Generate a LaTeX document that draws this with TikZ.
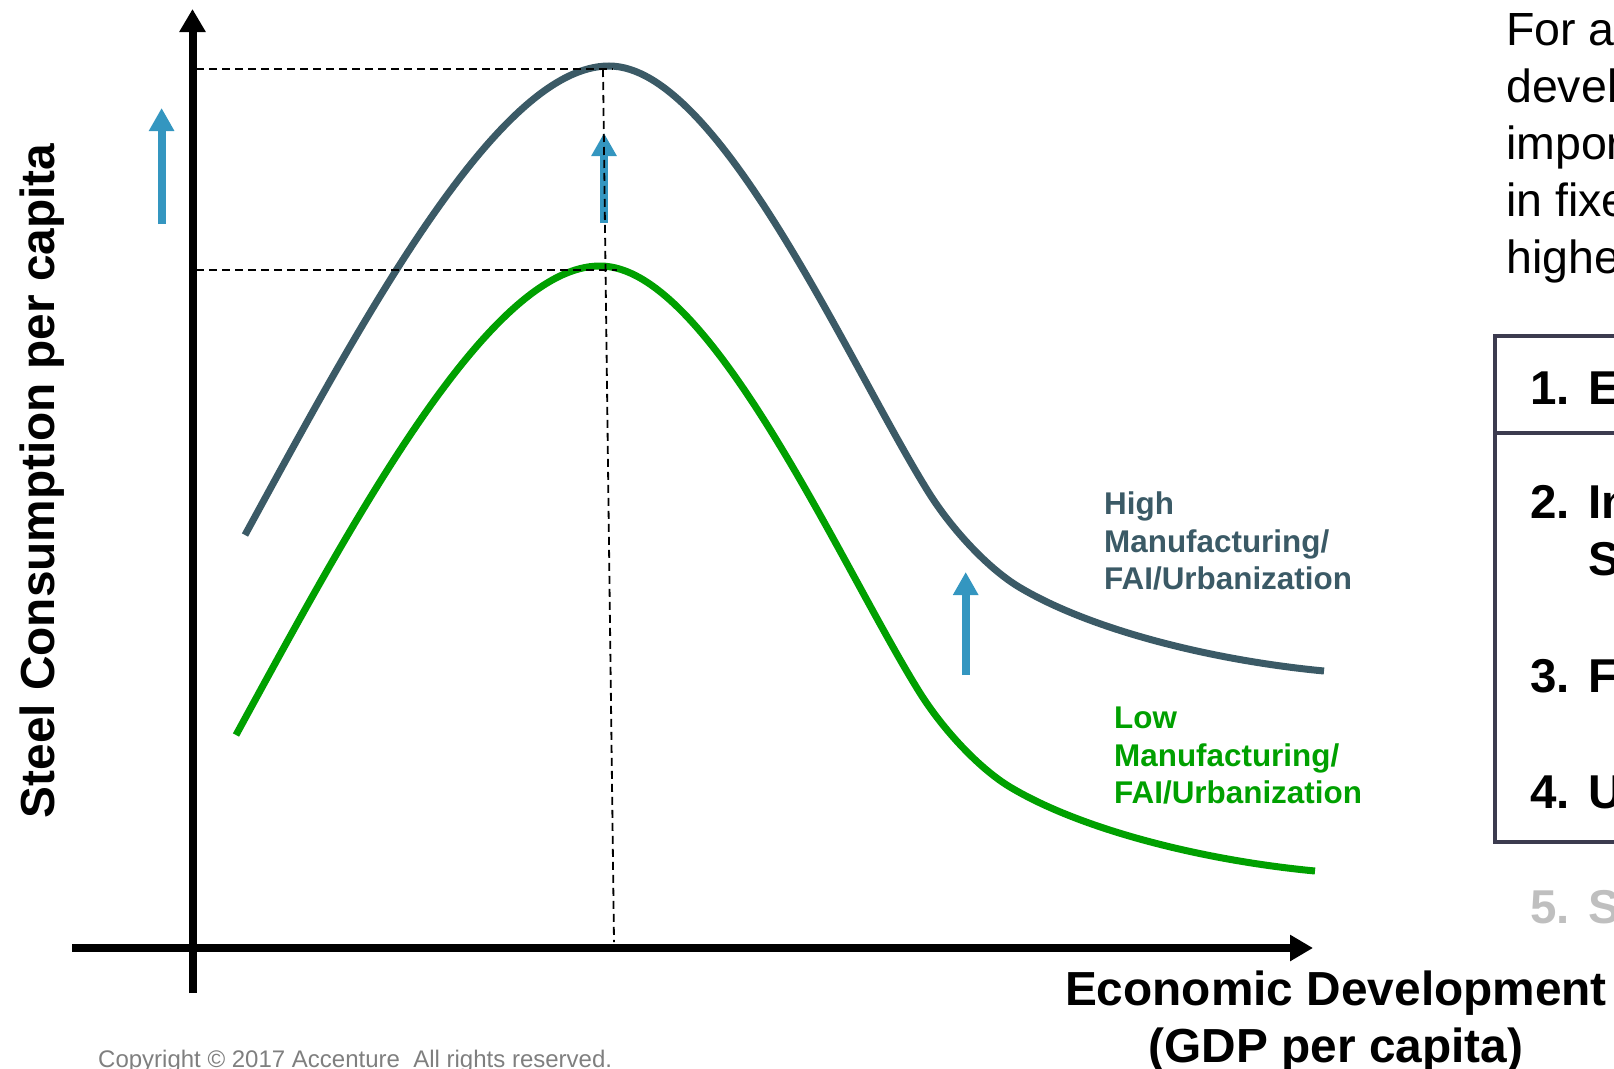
\documentclass[tikz,border=0pt]{standalone}
\usepackage{fontspec}
\setmainfont{Liberation Sans}
\usetikzlibrary{arrows.meta}
\definecolor{slate}{HTML}{3B5A66}
\definecolor{grn}{HTML}{00A000}
\definecolor{blu}{HTML}{3496C0}
\definecolor{boxc}{HTML}{3C3B4F}
\definecolor{lgray}{HTML}{BFBFBF}
\definecolor{cgray}{HTML}{7F7F7F}
\begin{document}
\begin{tikzpicture}[x=1pt,y=-1pt,
  axisline/.style={line width=8pt,-{Triangle[width=25pt,length=23pt]}},
  guide/.style={line width=1.8pt,dash pattern=on 8pt off 5pt},
  curveline/.style={line width=7pt},
  uparrow/.style={blu,line width=8pt,-{Triangle[width=24pt,length=23pt]}},
  lbl/.style={font=\fontsize{31.4}{37.5}\selectfont\bfseries,anchor=base west,inner sep=0pt},
  bodytxt/.style={font=\fontsize{46.5}{57}\selectfont,anchor=base west,inner sep=0pt},
  boxtxt/.style={font=\fontsize{47.5}{57}\selectfont\bfseries,anchor=base west,inner sep=0pt},
  axtitle/.style={font=\fontsize{47.8}{57}\selectfont\bfseries,inner sep=0pt,anchor=base}]
\useasboundingbox (0,0) rectangle (1614,1068);
\clip (0,0) rectangle (1614,1068);

% curves
\draw[curveline,grn] (236,735) .. controls (356,515) and (490,266) .. (600,266)
  .. controls (710,266) and (840,565) .. (920,693)
  .. controls (944,731) and (980,769) .. (1010,787)
  .. controls (1080,829) and (1200,860) .. (1315,871);
\begin{scope}[shift={(9,-200)}]
\draw[curveline,slate] (236,735) .. controls (356,515) and (490,266) .. (600,266)
  .. controls (710,266) and (840,565) .. (920,693)
  .. controls (944,731) and (980,769) .. (1010,787)
  .. controls (1080,829) and (1200,860) .. (1315,871);
\end{scope}

% axes
\coordinate (yb) at (192.5,993);
\coordinate (yt) at (192.5,9);
\coordinate (xl) at (72,948);
\coordinate (xr) at (1313,948);
\draw[axisline] (yb) -- (yt);
\draw[axisline] (xl) -- (xr);

% blue arrows
\coordinate (a1s) at (161.6,224);
\coordinate (a1e) at (161.6,108);
\coordinate (a2s) at (604,223);
\coordinate (a2e) at (604,133);
\coordinate (a3s) at (965.7,675);
\coordinate (a3e) at (965.7,572);
\draw[uparrow] (a1s) -- (a1e);
\draw[uparrow] (a2s) -- (a2e);
\draw[uparrow] (a3s) -- (a3e);

% guides
\coordinate (g1a) at (196,69);
\coordinate (g1b) at (613,69);
\coordinate (g2a) at (196,270);
\coordinate (g2b) at (617,270);
\coordinate (g3a) at (603,69);
\coordinate (g3b) at (614,942);
\draw[guide] (g1a) -- (g1b);
\draw[guide] (g2a) -- (g2b);
\draw[guide] (g3a) -- (g3b);

% curve labels
\node[lbl,slate] (hi1) at (1104,514) {High};
\node[lbl,slate] (hi2) at (1104,552) {Manufacturing/};
\node[lbl,slate] (hi3) at (1104,589) {FAI/Urbanization};
\node[lbl,grn] (lo1) at (1114,728) {Low};
\node[lbl,grn] (lo2) at (1114,766) {Manufacturing/};
\node[lbl,grn] (lo3) at (1114,803) {FAI/Urbanization};

% axis titles
\node[axtitle,rotate=90] (ylab) at (54,481) {Steel Consumption per capita};
\node[axtitle] (xlab1) at (1336,1005) {Economic Development};
\node[axtitle] (xlab2) at (1336,1062) {(GDP per capita)};
\node[anchor=base west,inner sep=0pt,font=\fontsize{24}{28}\selectfont,cgray] (copy) at (98,1067) {Copyright © 2017 Accenture\ \ All rights reserved.};

% right text
\node[bodytxt] (t1) at (1506,45) {For a};
\node[bodytxt] (t2) at (1506,102) {devel};
\node[bodytxt] (t3) at (1506,159) {impor};
\node[bodytxt] (t4) at (1506,216) {in fixe};
\node[bodytxt] (t5) at (1506,273) {highe};

% box
\coordinate (bxa) at (1495,336);
\coordinate (bxb) at (1640,842);
\draw[boxc,line width=4pt] (bxa) rectangle (bxb);
\coordinate (dva) at (1495,433);
\coordinate (dvb) at (1640,433);
\draw[boxc,line width=4pt] (dva) -- (dvb);

\node[boxtxt] (n1) at (1530,404) {1.};
\node[boxtxt] (w1) at (1588,404) {E};
\node[boxtxt] (n2) at (1530,518) {2.};
\node[boxtxt] (w2) at (1588,518) {In};
\node[boxtxt] (w2b) at (1588,575) {S};
\node[boxtxt] (n3) at (1530,692) {3.};
\node[boxtxt] (w3) at (1588,692) {F};
\node[boxtxt] (n4) at (1530,808) {4.};
\node[boxtxt] (w4) at (1588,808) {U};
\node[boxtxt,lgray] (n5) at (1530,923) {5.};
\node[boxtxt,lgray] (w5) at (1588,923) {S};
\end{tikzpicture}
\end{document}
